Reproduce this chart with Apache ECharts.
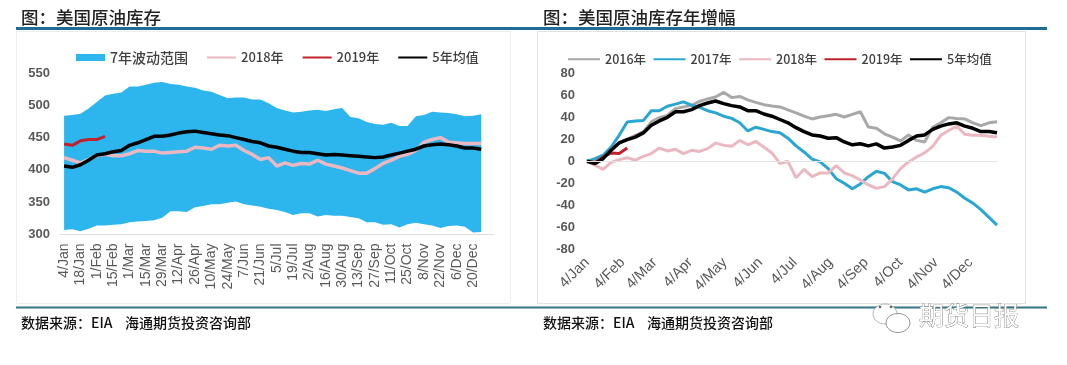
<!DOCTYPE html>
<html><head><meta charset="utf-8">
<style>html,body{margin:0;padding:0;background:#fff}#c{width:1067px;height:365px}</style>
<script src="https://cdn.jsdelivr.net/npm/echarts@6/dist/echarts.min.js"></script>
</head><body><div id="c"></div>
<script>
var stockWeeks=['4/Jan','11/Jan','18/Jan','25/Jan','1/Feb','8/Feb','15/Feb','22/Feb','1/Mar','8/Mar','15/Mar','22/Mar','29/Mar','5/Apr','12/Apr','19/Apr','26/Apr','3/May','10/May','17/May','24/May','31/May','7/Jun','14/Jun','21/Jun','28/Jun','5/Jul','12/Jul','19/Jul','26/Jul','2/Aug','9/Aug','16/Aug','23/Aug','30/Aug','6/Sep','13/Sep','20/Sep','27/Sep','4/Oct','11/Oct','18/Oct','25/Oct','1/Nov','8/Nov','15/Nov','22/Nov','29/Nov','6/Dec','13/Dec','20/Dec','27/Dec',''];
var rangeHigh=[484,485,487,495,505,515,518,520,529,529,532,535,536,533,532,529,527,523,521,516,511,512,512,509,509,503,496,492,489,490,492,493,491,494,496,482,480,474,471,470,473,468,468,483,485,490,489,488,486,483,484,486];
var rangeLow=[307,308,305,309,314,314,315,316,319,320,321,322,326,336,336,335,342,344,347,347,349,351,347,345,343,340,338,335,330,333,333,328,330,329,329,327,325,319,319,315,316,311,316,318,316,314,310,313,314,312,303,304];
var stock2018=[419,415,411,416,422,424,422,422,425,430,429,429,426,427,428,429,435,434,432,438,437,438,430,424,416,419,406,411,407,410,409,415,409,406,403,399,395,395,402,410,415,421,424,430,443,447,450,443,442,441,441,441];
var stock2019=[440,438,445,447,447,452];
var stockAvg=[406,404,408,415,423,425,428,430,438,442,447,452,452,454,457,459,460,458,456,454,453,450,447,444,442,437,435,432,429,427,427,425,423,424,423,422,421,420,419,420,423,426,429,432,437,439,440,439,437,434,434,432];
var stockTicks=[300,550];

var months=['Jan','Feb','Mar','Apr','May','Jun','Jul','Aug','Sep','Oct','Nov','Dec'];
var monthDays=[31,28,31,30,31,30,31,31,30,31,30,31];
var growth2016=[0,1.5,4,11.5,17,20,23.6,26.7,35.8,39.7,41.8,47.9,49.4,50.9,54.5,56.7,58.5,62.7,57.9,59,55.8,53.6,51.5,50.3,49.4,46.7,44,41,38.5,40.3,41.5,42.7,40.3,42.7,45,31.2,30,25,22,18.5,24,19,17.5,31,35,39.7,39,38.5,35,32.4,35,36];
var growth2017=[0,2.4,5.5,13,23.6,35.8,36.7,37,46,46,50,52,54,51,49,46,44,41,39,35,27.6,31,29,27,26,21,14,8.5,2,-0.6,-6.7,-15.8,-20,-25,-20.6,-14,-9,-11,-18.5,-21.5,-26,-25,-28,-25,-23,-24,-28,-33.6,-38,-44,-51,-58];
var growth2018=[0,-3.6,-7.3,-1,1.5,3.3,1,4.5,7,12,9.4,11,7,10,9,11.5,16.7,14.5,13.6,19,15,18,13,7.6,-2,0,-15,-7.3,-14,-10.6,-10.6,-4,-10.6,-13,-17,-21.5,-24.5,-23,-16,-6.7,-0.6,4,7.6,13.6,23.6,28,32,24.5,23.6,23.6,22.7,22];
var growth2019=[0,-1,4,7.6,7,12];
var growthAvg=[0,-2,2.4,10,16.7,19.7,22,25.8,32.7,36.7,40,45,45,47,50.6,53,54.8,52.4,50.6,49.4,46,46,43,41,38,35,30.6,27,24,23,21,21.5,17.6,15,16,14,15.8,12,13,14.5,19,23,24,29,32,34,35,32,30,27,27,26];

var titleLeft='图：美国原油库存', titleRight='图：美国原油库存年增幅';
var sourceText='数据来源：EIA    海通期货投资咨询部';
var logoText='期货日报';

var bandName='7年波动范围', y18='2018年', y19='2019年', y17='2017年', y16='2016年', avg='5年均值';
var GREY='#595959', BLUE='#2DB5EE', PINK='#EBB8C1', RED='#C0222C', BLACK='#000', TEAL='#29A6D2', GRAY='#A8A8A8';

var days=[];
months.forEach(function(m,i){for(var d=1;d<=monthDays[i];d++){days.push(d+'/'+m);}});
days=days.slice(3,361);
function weekly(arr){return arr.map(function(v,i){return [i*7,v];});}
function line(name,data,color,xi,w){
  return {name:name,type:'line',xAxisIndex:xi,yAxisIndex:xi,data:data,symbol:'circle',symbolSize:0,showSymbol:false,
    lineStyle:{color:color,width:w||3},itemStyle:{color:color},animation:false,silent:true};
}
var bandDiff=rangeHigh.map(function(v,i){return v-rangeLow[i];});

var axisFont={fontFamily:'Liberation Sans',color:GREY,fontSize:14};
var cjk='"Noto Sans CJK SC"';

var option={
  backgroundColor:'#fff',animation:false,
  title:[
    {text:titleLeft,left:16,top:4,textStyle:{fontFamily:cjk,fontSize:17.5,fontWeight:500,color:'#222'}},
    {text:titleRight,left:538,top:4,textStyle:{fontFamily:cjk,fontSize:17.5,fontWeight:500,color:'#222'}},
    {text:sourceText,left:16,top:311,textStyle:{fontFamily:cjk,fontSize:14,fontWeight:500,color:'#111'}},
    {text:sourceText,left:538,top:311,textStyle:{fontFamily:cjk,fontSize:14,fontWeight:500,color:'#111'}}
  ],
  legend:[
    {left:76,top:50.5,itemWidth:29,itemHeight:7,itemGap:18,padding:0,itemStyle:{opacity:0},
     textStyle:{fontFamily:cjk,fontSize:13,color:'#404040',fontWeight:500},
     data:[{name:bandName,icon:'rect',itemStyle:{color:BLUE,opacity:1},textStyle:{fontSize:14}},y18,y19,avg]},
    {left:567,top:53,itemWidth:32,itemHeight:7,itemGap:6.5,padding:0,itemStyle:{opacity:0},
     textStyle:{fontFamily:cjk,fontSize:12.5,color:'#404040',fontWeight:500},
     data:[y16,y17,y18,y19,avg]}
  ],
  grid:[
    {left:60,top:73,width:433.5,height:161.5},
    {left:587,top:73.3,width:410,height:176}
  ],
  xAxis:[
    {type:'category',gridIndex:0,data:stockWeeks,boundaryGap:true,
     axisLine:{lineStyle:{color:'#DDD'}},axisTick:{show:false},
     axisLabel:Object.assign({rotate:90,interval:1,margin:9,padding:[4,0,0,0]},axisFont)},
    {type:'category',gridIndex:1,data:days,boundaryGap:false,
     axisLine:{show:false,onZero:false},axisTick:{show:false},splitLine:{show:false},
     axisLabel:{rotate:45,margin:11,fontSize:14.5,fontFamily:'Liberation Sans',color:GREY,
       interval:function(i,v){return v.indexOf('4/')===0;}}}
  ],
  yAxis:[
    {type:'value',gridIndex:0,min:stockTicks[0],max:stockTicks[1],interval:50,
     axisLine:{show:false},axisTick:{show:false},splitLine:{show:false},
     axisLabel:{margin:10,fontFamily:'Liberation Sans',color:GREY,fontSize:13,fontWeight:'bold'}},
    {type:'value',gridIndex:1,min:-80,max:80,interval:20,
     axisLine:{show:false},axisTick:{show:false},splitLine:{show:false},
     axisLabel:{margin:12,fontFamily:'Liberation Sans',color:GREY,fontSize:13,fontWeight:'bold'}}
  ],
  series:[
    {name:'low',type:'line',stack:'r',xAxisIndex:0,yAxisIndex:0,data:rangeLow,symbol:'none',
     lineStyle:{width:0,opacity:0},silent:true},
    {name:bandName,type:'line',stack:'r',xAxisIndex:0,yAxisIndex:0,data:bandDiff,symbol:'none',
     lineStyle:{width:0,opacity:0},areaStyle:{color:BLUE,opacity:1},itemStyle:{color:BLUE},silent:true},
    line(y18,stock2018,PINK,0,3.5),
    line(y19,stock2019,RED,0,3),
    line(avg,stockAvg,BLACK,0,3.5),
    Object.assign(line(y16,weekly(growth2016),GRAY,1),{
      markLine:{silent:true,symbol:'none',label:{show:false},lineStyle:{color:'#E4E4E4',width:1,type:'solid'},data:[{yAxis:0}]}}),
    line(y17,weekly(growth2017),TEAL,1),
    line(y18,weekly(growth2018),PINK,1),
    line(y19,weekly(growth2019),RED,1),
    line(avg,weekly(growthAvg),BLACK,1,3.5)
  ],
  graphic:[
    {type:'rect',shape:{x:16.5,y:31.5,width:494,height:272},style:{fill:'none',stroke:'#EEE',lineWidth:1},z:-1},
    {type:'rect',shape:{x:537.5,y:31.5,width:488,height:272},style:{fill:'none',stroke:'#E2E2E2',lineWidth:1},z:-1},
    {type:'line',shape:{x1:16,y1:28.5,x2:1047,y2:28.5},style:{stroke:'#1F6C96',lineWidth:3},z:1},
    {type:'line',shape:{x1:16,y1:307.5,x2:1047,y2:307.5},style:{stroke:'#327583',lineWidth:2},z:1},
    {type:'ellipse',shape:{cx:885,cy:314,rx:12,ry:10},style:{fill:'#fff',stroke:'#999',lineWidth:0.7},z:5},
    {type:'ellipse',shape:{cx:898,cy:323,rx:12,ry:9.5},style:{fill:'#fff',stroke:'#777',lineWidth:0.8},z:6},
    {type:'circle',shape:{cx:880,cy:307,r:1.3},style:{fill:'#666'},z:7},
    {type:'circle',shape:{cx:891,cy:307,r:1.3},style:{fill:'#666'},z:7},
    {type:'text',x:919,y:303,style:{text:logoText,font:'25px "Noto Sans CJK SC"',fill:'#fff',stroke:'#666',lineWidth:0.7},z:7}
  ]
};
var chart=echarts.init(document.getElementById('c'),null,{renderer:'canvas'});
chart.setOption(option);
</script></body></html>
